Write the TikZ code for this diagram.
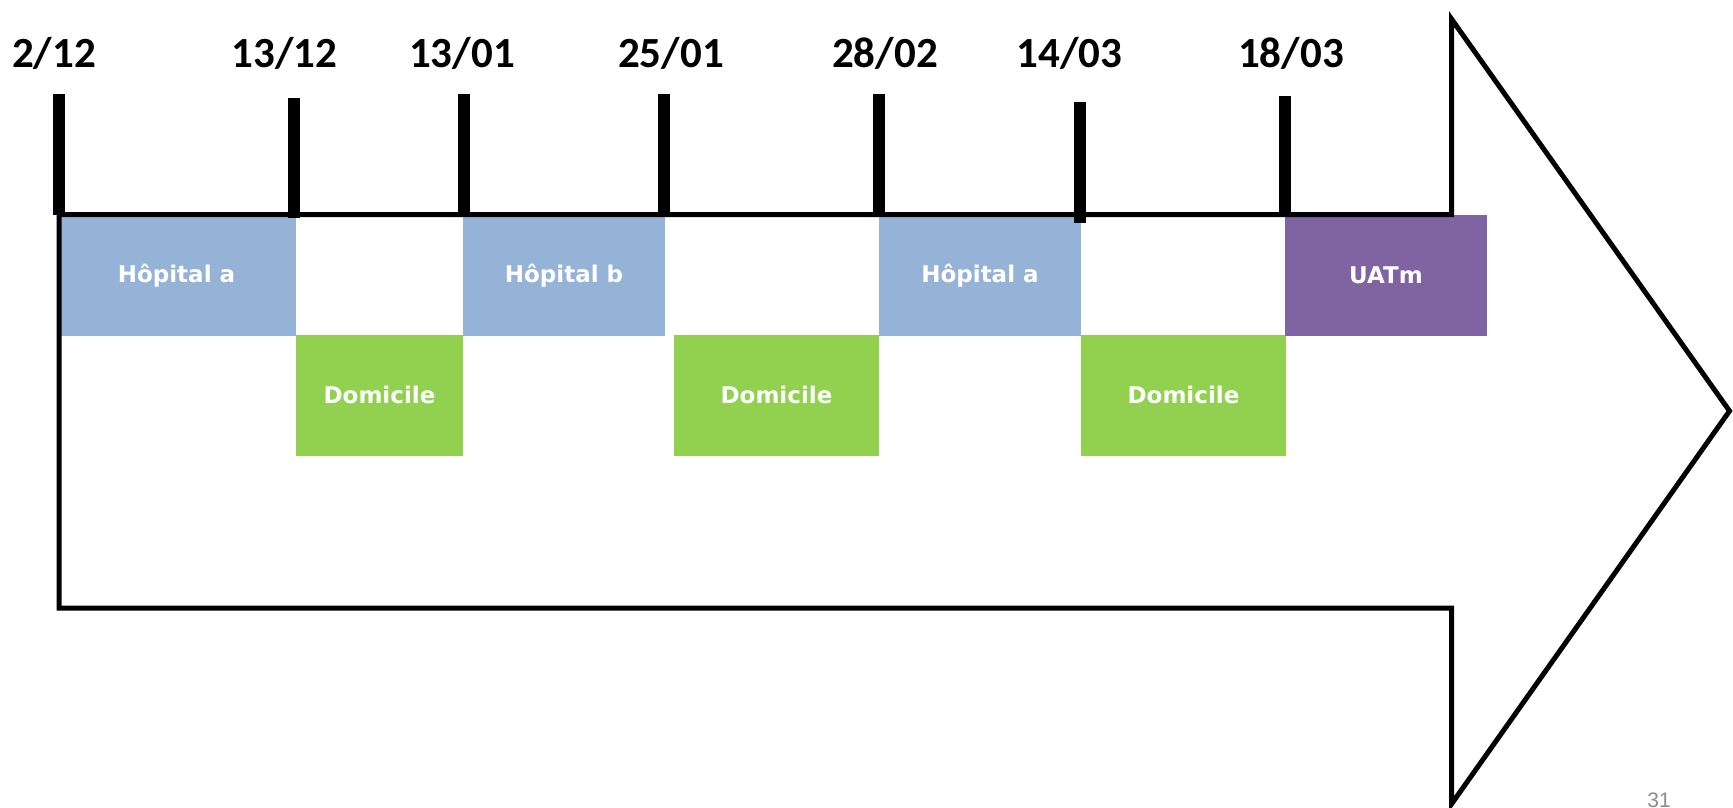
\documentclass[tikz,border=0pt]{standalone}
\usepackage{fontspec}
\newfontfamily\datefont{Carlito}
\newfontfamily\boxfont{DejaVu Sans}
\newfontfamily\numfont{Liberation Sans}
\definecolor{hospblue}{HTML}{95B3D7}
\definecolor{homegreen}{HTML}{92D050}
\definecolor{carepurple}{HTML}{8064A2}
\definecolor{pagegray}{HTML}{8C8C8C}
\tikzset{
  period/.style={draw=none, inner sep=0pt, outer sep=0pt, anchor=north west,
    minimum height=120.5pt, text=white,
    font=\boxfont\bfseries\fontsize{23}{28}\selectfont},
  hosp/.style={period, fill=hospblue},
  home/.style={period, fill=homegreen},
  care/.style={period, fill=carepurple},
  datelabel/.style={inner sep=0pt, anchor=base,
    font=\datefont\bfseries\fontsize{43}{50}\selectfont},
  tickline/.style={line width=11.5pt, line cap=butt},
  outline/.style={line width=5pt, line join=miter},
  pagenum/.style={inner sep=0pt, anchor=base, text=pagegray,
    font=\numfont\fontsize{21}{25}\selectfont}
}
\begin{document}
\begin{tikzpicture}[x=1pt,y=-1pt]
\useasboundingbox (0,0) rectangle (1733,808);

% stays along the timeline
\node[hosp, minimum width=239pt] (h1) at (57,215) {Hôpital a};
\node[home, minimum width=167pt] (m1) at (296,335) {Domicile};
\node[hosp, minimum width=202pt] (h2) at (463,215) {Hôpital b};
\node[home, minimum width=205pt] (m2) at (674,335) {Domicile};
\node[hosp, minimum width=202pt] (h3) at (879,215) {Hôpital a};
\node[home, minimum width=205pt] (m3) at (1081,335) {Domicile};
\node[care, minimum width=202pt] (u1) at (1285,215) {UATm};

% block arrow framing the timeline
\draw[outline] (59,214.5) -- (1451.5,214.5) -- (1451.5,19) -- (1729.5,411)
  -- (1451.5,804) -- (1451.5,608) -- (59,608) -- cycle;

% date ticks
\draw[tickline] (59,94) -- (59,214.5);
\draw[tickline] (294,97.5) -- (294,218);
\draw[tickline] (464,94) -- (464,214.5);
\draw[tickline] (664,94) -- (664,214.5);
\draw[tickline] (879,94) -- (879,214.5);
\draw[tickline] (1080,102) -- (1080,222.5);
\draw[tickline] (1285,96) -- (1285,216.5);

% date labels
\node[datelabel] (d1) at (54,67.7) {2/12};
\node[datelabel] (d2) at (284.5,67.7) {13/12};
\node[datelabel] (d3) at (462,67.7) {13/01};
\node[datelabel] (d4) at (671,67.7) {25/01};
\node[datelabel] (d5) at (885,67.7) {28/02};
\node[datelabel] (d6) at (1069.5,67.7) {14/03};
\node[datelabel] (d7) at (1291,67.7) {18/03};

% slide number
\node[pagenum] (pg) at (1659,807) {31};
\end{tikzpicture}
\end{document}
